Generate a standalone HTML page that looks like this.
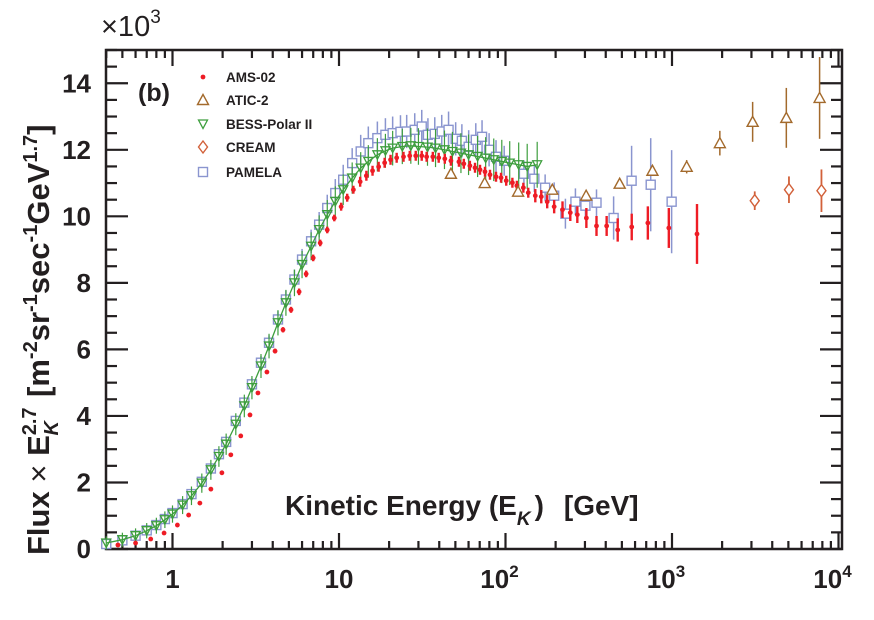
<!DOCTYPE html>
<html><head><meta charset="utf-8"><style>
html,body{margin:0;padding:0;background:#fff;}
svg{display:block;font-family:"Liberation Sans",Arial,sans-serif;}
</style></head><body>
<svg id="chart" width="874" height="620" viewBox="0 0 874 620" xmlns="http://www.w3.org/2000/svg"></svg>
<script>
const amsE=[0.47,0.60,0.74,0.89,1.07,1.25,1.46,1.70,1.98,2.24,2.57,2.92,3.26,3.69,4.13,4.61,5.15,5.76,6.35,7.0,7.71,8.5,9.37,10.3,11.2,12.2,13.4,14.6,15.9,17.3,18.8,20.4,22.2,24.4,26.6,28.9,31.4,33.6,36.6,39.7,43.2,47.0,52.5,56.2,61.1,65.6,70.3,75.3,80.7,87.7,94.0,101,110,117,128,137,151,164,178,196,220,245,270,306,352,405,472,573,716,957,1413];
const amsV=[0.12,0.18,0.30,0.48,0.72,1.02,1.38,1.80,2.29,2.83,3.40,4.03,4.69,5.32,5.95,6.59,7.19,7.73,8.27,8.75,9.20,9.59,9.95,10.29,10.56,10.80,11.04,11.22,11.37,11.49,11.61,11.70,11.76,11.79,11.82,11.82,11.82,11.79,11.79,11.76,11.73,11.67,11.64,11.58,11.52,11.46,11.40,11.34,11.25,11.19,11.16,11.07,11.01,10.92,10.86,10.71,10.62,10.59,10.44,10.29,10.20,10.11,10.05,9.95,9.71,9.71,9.59,9.68,9.80,9.65,9.47];
const amsErr=[0.02,0.02,0.02,0.02,0.02,0.02,0.02,0.03,0.03,0.03,0.03,0.04,0.05,0.06,0.07,0.08,0.09,0.1,0.1,0.1,0.1,0.1,0.1,0.12,0.12,0.12,0.15,0.15,0.15,0.15,0.15,0.15,0.15,0.15,0.15,0.15,0.15,0.15,0.15,0.15,0.15,0.15,0.15,0.15,0.15,0.15,0.15,0.15,0.15,0.15,0.15,0.15,0.15,0.15,0.15,0.15,0.2,0.2,0.2,0.2,0.25,0.25,0.25,0.3,0.3,0.3,0.35,0.4,0.5,0.6,0.9];
const bessE=[0.4,0.5,0.6,0.7,0.8,0.9,1.0,1.15,1.3,1.5,1.7,1.9,2.1,2.4,2.7,3.0,3.4,3.8,4.3,4.8,5.4,6.0,6.8,7.6,8.5,9.5,10.6,12,13.5,15,17,19,21,24,27,30,34,38,43,48,54,60,68,76,85,95,106,120,135,155];
const bessV=[0.18,0.28,0.40,0.55,0.70,0.88,1.05,1.32,1.60,1.98,2.38,2.78,3.15,3.75,4.3,4.85,5.5,6.1,6.8,7.4,8.0,8.55,9.1,9.6,10.05,10.45,10.8,11.15,11.45,11.65,11.85,11.97,12.05,12.1,12.12,12.1,12.08,12.05,12.0,11.95,11.9,11.85,11.8,11.75,11.7,11.65,11.6,11.55,11.5,11.55];
const pamE=[0.4,0.5,0.6,0.7,0.8,0.9,1.0,1.15,1.3,1.5,1.7,1.9,2.1,2.4,2.7,3.0,3.4,3.8,4.3,4.8,5.4,6.0,6.8,7.6,8.5,9.5,10.6,12,13.5,15,17,19,21,23.4,25.5,28.5,31.4,34.2,37.6,41.4,45.5,50.2,54.7,60.1,66.3,72.3,79.7,87.7,98.2,129,149,173,196,229,263,302,352,446,572,745,995];
const pamV=[0.15,0.26,0.40,0.56,0.72,0.90,1.08,1.35,1.65,2.02,2.42,2.85,3.22,3.85,4.4,4.95,5.6,6.2,6.9,7.5,8.1,8.7,9.25,9.75,10.25,10.7,11.1,11.6,11.95,12.2,12.35,12.45,12.5,12.54,12.55,12.6,12.7,12.45,12.48,12.55,12.6,12.33,12.27,12.09,12.3,12.39,12.0,11.79,11.67,11.28,11.13,10.86,10.62,10.08,10.44,10.32,10.41,9.95,11.07,10.95,10.44];
const pamErr=[0.02,0.03,0.03,0.04,0.04,0.05,0.05,0.06,0.07,0.08,0.09,0.1,0.12,0.14,0.16,0.18,0.2,0.22,0.25,0.27,0.3,0.32,0.35,0.38,0.4,0.42,0.45,0.45,0.5,0.5,0.5,0.5,0.5,0.5,0.5,0.5,0.5,0.5,0.5,0.5,0.55,0.5,0.5,0.5,0.5,0.5,0.5,0.5,0.45,0.4,0.4,0.4,0.4,0.45,0.4,0.4,0.4,0.65,1.05,1.4,1.55];
const aticE=[47,75,119,191,305,485,763,1225,1938,3050,4860,7700];
const aticV=[11.28,11.0,10.74,10.8,10.62,10.98,11.37,11.49,12.2,12.84,12.96,13.56];
const aticErr=[0.1,0.1,0.1,0.1,0.15,0.15,0.15,0.2,0.37,0.6,0.9,1.23];
const creamE=[3140,5040,7900];
const creamV=[10.47,10.8,10.77];
const creamErr=[0.28,0.4,0.64];
const yTicks=[0,2,4,6,8,10,12,14];
const xTickLabels=["1","10","10","10","10"];
const xTickSups=["","","2","3","4"];

const svg=document.getElementById('chart');
const NS='http://www.w3.org/2000/svg';
const L=106,R=842,T=50,B=549;
function xs(e){return 339+166.5*(Math.log10(e)-1);}
function ys(v){return B-(B-T)*v/15;}
function mk(tag,attrs,parent){const el=document.createElementNS(NS,tag);for(const k in attrs)el.setAttribute(k,attrs[k]);(parent||svg).appendChild(el);return el;}

const frame=mk('rect',{x:L,y:T,width:R-L,height:B-T,fill:'none',stroke:'#231f20','stroke-width':2.5});


const ax=mk('g',{stroke:'#231f20','stroke-width':2.2});


for(let v=0;v<=15.001;v+=0.5){const y=ys(v);const major=Math.abs(v%2)<0.01;const len=major?22:11;
  mk('line',{x1:L,y1:y,x2:L+len,y2:y},ax);mk('line',{x1:R,y1:y,x2:R-len,y2:y},ax);}
for(let d=-1;d<=4;d++){for(let m=1;m<10;m++){const e=m*Math.pow(10,d);const x=xs(e);if(x<L||x>R)continue;const len=m===1?16:8;
  mk('line',{x1:x,y1:B,x2:x,y2:B-len},ax);mk('line',{x1:x,y1:T,x2:x,y2:T+len},ax);}}
yTicks.forEach(v=>{const t=mk('text',{x:91,y:ys(v)+9,'text-anchor':'end','font-size':26,'font-weight':'bold',fill:'#231f20'});t.textContent=v;
  
  });
xTickLabels.forEach((lab,i)=>{const x=xs(Math.pow(10,i));const t=mk('text',{x:x+(xTickSups[i]?-6:0),y:588,'text-anchor':'middle','font-size':26,'font-weight':'bold',fill:'#231f20'});t.textContent=lab;
  if(xTickSups[i]){const s=mk('tspan',{dy:-11,'font-size':17},t);s.textContent=xTickSups[i];}
  
  });
const ex=mk('text',{x:101,y:36,'font-size':29,fill:'#231f20'});ex.innerHTML='×10<tspan dy="-13" font-size="19">3</tspan>';


const yt=mk('text',{x:0,y:0,transform:'translate(49,555) rotate(-90)','font-size':31,'font-weight':'bold',fill:'#231f20'});
yt.innerHTML='Flux <tspan font-weight="normal">×</tspan> E<tspan dy="-13" font-size="20">2.7</tspan><tspan dy="22" dx="-28" font-size="20" font-style="italic">K</tspan><tspan dy="-9" dx="24">[m</tspan><tspan dy="-12" font-size="20">-2</tspan><tspan dy="12">sr</tspan><tspan dy="-12" font-size="20">-1</tspan><tspan dy="12">sec</tspan><tspan dy="-12" font-size="20">-1</tspan><tspan dy="12">GeV</tspan><tspan dy="-12" font-size="20">1.7</tspan><tspan dy="12">]</tspan>';


const xt=mk('text',{x:285,y:515,'font-size':28,'font-weight':'bold',fill:'#231f20'});
xt.innerHTML='Kinetic Energy (E<tspan dy="10" font-size="19" font-style="italic">K</tspan><tspan dy="-10" dx="4">)</tspan><tspan dx="20">[GeV]</tspan>';


const pl=mk('text',{x:138,y:101,'font-size':25,'font-weight':'bold',fill:'#231f20'});pl.textContent='(b)';



function err(g,x,v,e,col,w){if(e>0)mk('line',{x1:x,y1:ys(v-e),x2:x,y2:ys(v+e),stroke:col,'stroke-width':w},g);}
function triUp(g,x,y,col){mk('path',{d:`M${x-5.5},${y+4.5} L${x+5.5},${y+4.5} L${x},${y-5.5} Z`,fill:'#fff',stroke:col,'stroke-width':1.4},g);}
function triDown(g,x,y,col){mk('path',{d:`M${x-4.5},${y-4} L${x+4.5},${y-4} L${x},${y+4.5} Z`,fill:'none',stroke:col,'stroke-width':1.3},g);}
function square(g,x,y,col){mk('rect',{x:x-4.5,y:y-4.5,width:9,height:9,fill:'#fff',stroke:col,'stroke-width':1.4},g);}
function diamond(g,x,y,col){mk('path',{d:`M${x},${y-6} L${x+4.5},${y} L${x},${y+6} L${x-4.5},${y} Z`,fill:'#fff',stroke:col,'stroke-width':1.4},g);}

const cP='#8a95cf',cB='#3d9e3d',cA='#a36a2c',cC='#d2613a',cR='#ee1c25';
const gP=mk('g',{});
pamE.forEach((e,i)=>err(gP,xs(e),pamV[i],pamErr[i],cP,1.5));
pamE.forEach((e,i)=>square(gP,xs(e),ys(pamV[i]),cP));
const gB=mk('g',{});
mk('polyline',{points:bessE.map((e,i)=>xs(e)+','+ys(bessV[i])).join(' '),fill:'none',stroke:cB,'stroke-width':1.3},gB);
bessE.forEach((e,i)=>err(gB,xs(e),bessV[i],0.2+0.01*i,cB,1.2));
bessE.forEach((e,i)=>triDown(gB,xs(e),ys(bessV[i]),cB));
const gR=mk('g',{});
amsE.forEach((e,i)=>{err(gR,xs(e),amsV[i],amsErr[i],cR,2.4);mk('circle',{cx:xs(e),cy:ys(amsV[i]),r:2.4,fill:cR},gR);});
const gA=mk('g',{});
aticE.forEach((e,i)=>{err(gA,xs(e),aticV[i],aticErr[i],cA,1.5);triUp(gA,xs(e),ys(aticV[i]),cA);});
const gC=mk('g',{});
creamE.forEach((e,i)=>{err(gC,xs(e),creamV[i],creamErr[i],cC,1.8);diamond(gC,xs(e),ys(creamV[i]),cC);});

const lg=mk('g',{});
const names=['AMS-02','ATIC-2','BESS-Polar II','CREAM','PAMELA'];
const ly=[77,100,124,147,172];
mk('circle',{cx:203,cy:ly[0],r:2.4,fill:cR},lg);
triUp(lg,203,ly[1],cA);triDown(lg,203,ly[2],cB);diamond(lg,203,ly[3],cC);square(lg,203,ly[4],cP);
names.forEach((n,i)=>{const t=mk('text',{x:226,y:ly[i]+5,'font-size':13.5,'font-weight':'bold',fill:'#231f20'},lg);t.textContent=n;
  
  });
</script>
</body></html>
